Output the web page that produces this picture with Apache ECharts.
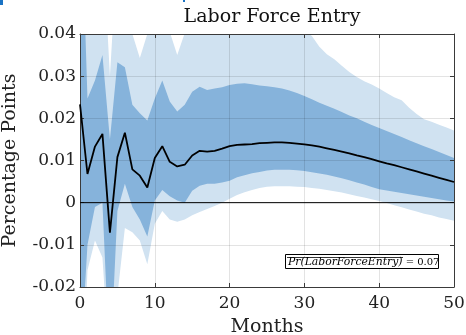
<!DOCTYPE html>
<html><head><meta charset="utf-8">
<script src="https://cdn.jsdelivr.net/npm/echarts@6/dist/echarts.min.js"></script>
<style>html,body{margin:0;padding:0;background:#fff}#c{width:466px;height:335px}</style>
</head><body><div id="c"></div>
<script>
const months = [0,1,2,3,4,5,6,7,8,9,10,11,12,13,14,15,16,17,18,19,20,21,22,23,24,25,26,27,28,29,30,31,32,33,34,35,36,37,38,39,40,41,42,43,44,45,46,47,48,49,50];
const meanResp = [0.0233,0.0068,0.0133,0.0163,-0.0071,0.0108,0.0166,0.0079,0.0064,0.0036,0.0106,0.0134,0.0097,0.0086,0.0090,0.0112,0.0123,0.0121,0.0123,0.0128,0.0134,0.0137,0.0138,0.0139,0.0141,0.0142,0.0143,0.0143,0.0142,0.0140,0.0138,0.0136,0.0133,0.0129,0.0125,0.0121,0.0117,0.0112,0.0108,0.0103,0.0098,0.0093,0.0089,0.0084,0.0079,0.0074,0.0069,0.0064,0.0059,0.0054,0.0049];
const innerLower = [-0.04,-0.010,-0.001,0.0,-0.04,-0.002,0.0045,-0.001,-0.004,-0.008,0.0005,0.003,0.0015,0.0005,0.0,0.0028,0.004,0.0045,0.0045,0.0048,0.0052,0.006,0.0065,0.007,0.0073,0.0076,0.0078,0.0078,0.0078,0.0077,0.0075,0.0072,0.0069,0.0066,0.0062,0.0058,0.0053,0.0048,0.0043,0.0037,0.0032,0.0029,0.0026,0.0023,0.002,0.0017,0.0014,0.0011,0.0008,0.0005,0.0003];
const innerUpper = [0.08,0.0247,0.029,0.035,0.015,0.0333,0.0321,0.0232,0.0212,0.0195,0.0247,0.029,0.024,0.0216,0.0232,0.0263,0.0275,0.0267,0.0271,0.0274,0.0279,0.0282,0.0283,0.0281,0.0278,0.0276,0.0274,0.0271,0.0266,0.026,0.0253,0.0245,0.0237,0.023,0.0223,0.0215,0.0207,0.020,0.0192,0.0184,0.0177,0.017,0.0163,0.0156,0.0148,0.0141,0.0134,0.0127,0.012,0.0113,0.0106];
const outerLower = [-0.06,-0.016,-0.009,-0.013,-0.04,-0.022,-0.006,-0.007,-0.009,-0.0146,-0.005,-0.002,-0.004,-0.0045,-0.004,-0.003,-0.0022,-0.0015,-0.0008,0.0,0.0009,0.0018,0.0025,0.003,0.0035,0.0038,0.0039,0.0039,0.0039,0.0038,0.0037,0.0035,0.0033,0.003,0.0027,0.0024,0.002,0.0016,0.0012,0.0008,0.0004,-0.0001,-0.0006,-0.0011,-0.0016,-0.0021,-0.0026,-0.003,-0.0035,-0.0039,-0.0043];
const outerUpper = [0.1,0.06,0.058,0.063,0.030,0.06,0.055,0.040,0.0343,0.040,0.046,0.048,0.0405,0.035,0.0402,0.045,0.047,0.048,0.048,0.048,0.048,0.048,0.048,0.047,0.047,0.046,0.046,0.045,0.044,0.043,0.041,0.0395,0.037,0.0352,0.034,0.0325,0.031,0.0298,0.0288,0.028,0.0271,0.026,0.025,0.0243,0.0225,0.021,0.0198,0.0192,0.0185,0.0178,0.0171];
const xTicks = [0,10,20,30,40,50];
const yTickLabels = ['-0.02','-0.01','0','0.01','0.02','0.03','0.04'];
const titleText = 'Labor Force Entry';
const xName = 'Months';
const yName = 'Percentage Points';
const noteVar = 'Pr(LaborForceEntry)';
const noteVal = ' = 0.07';

const FONT = 'DejaVu Serif';
const pairs = (arr) => months.map((m, i) => [m, arr[i]]);

function bandSeries(lo, hi, color) {
  return {
    type: 'custom', z: 1, silent: true, clip: true,
    data: months.map((m, i) => [m, lo[i], hi[i]]),
    encode: {x: 0, y: [1, 2]},
    renderItem: function (params, api) {
      if (params.dataIndex !== 0) return null;
      const top = [], bot = [];
      for (let i = 0; i < months.length; i++) {
        top.push(api.coord([months[i], hi[i]]));
        bot.push(api.coord([months[i], lo[i]]));
      }
      const cs = params.coordSys;
      return {
        type: 'polygon',
        shape: {points: top.concat(bot.reverse())},
        style: {fill: color, stroke: null},
        clipPath: {type: 'rect', shape: {x: cs.x, y: cs.y, width: cs.width, height: cs.height}}
      };
    }
  };
}

const chart = echarts.init(document.getElementById('c'), null, {renderer: 'canvas'});
const axisCol = '#3a3a3a';
const gridCol = 'rgba(0,0,0,0.11)';
const baseX = {
  type: 'value', min: 0, max: 50, interval: 10,
  axisLine: {show: true, onZero: false, lineStyle: {color: axisCol, width: 1}},
  axisTick: {show: true, inside: true, length: 4, lineStyle: {color: axisCol}},
  splitLine: {show: false}, z: 3
};
const baseY = {
  type: 'value', min: -0.02, max: 0.04, interval: 0.01,
  axisLine: {show: true, onZero: false, lineStyle: {color: axisCol, width: 1}},
  axisTick: {show: true, inside: true, length: 4, lineStyle: {color: axisCol}},
  splitLine: {show: false}, z: 3
};

chart.setOption({
  animation: false,
  backgroundColor: '#fff',
  title: {text: titleText, left: 267, textAlign: 'center', top: 3,
    textStyle: {fontFamily: FONT, fontWeight: 'normal', fontSize: 19, color: '#111'}},
  grid: {left: 80, right: 12, top: 34, bottom: 48, containLabel: false, outerBoundsMode: 'none'},
  xAxis: [
    Object.assign({}, baseX, {position: 'bottom',
      axisLabel: {show: true, margin: 8, fontFamily: FONT, fontSize: 17, color: '#222',
        formatter: v => xTicks.includes(v) ? String(v) : ''},
      splitLine: {show: true, lineStyle: {color: gridCol, width: 1}},
      name: xName, nameLocation: 'middle', nameGap: 31,
      nameTextStyle: {fontFamily: FONT, fontSize: 19, color: '#222'}}),
    Object.assign({}, baseX, {position: 'top', axisLabel: {show: false}})
  ],
  yAxis: [
    Object.assign({}, baseY, {position: 'left',
      axisLabel: {show: true, margin: 4, fontFamily: FONT, fontSize: 17, color: '#222',
        formatter: v => yTickLabels[Math.round((v + 0.02) / 0.01)]},
      splitLine: {show: true, lineStyle: {color: gridCol, width: 1}},
      name: yName, nameLocation: 'middle', nameGap: 60, nameRotate: 90,
      nameTextStyle: {fontFamily: FONT, fontSize: 19, color: '#222'}}),
    Object.assign({}, baseY, {position: 'right', axisLabel: {show: false}})
  ],
  series: [
    bandSeries(outerLower, outerUpper, '#d0e2f1'),
    bandSeries(innerLower, innerUpper, '#86b3db'),
    {type: 'line', data: [[0, 0], [50, 0]], symbol: 'none',
     lineStyle: {color: '#000', width: 1}, z: 4, silent: true},
    {type: 'line', data: pairs(meanResp), symbol: 'none',
     lineStyle: {color: '#000', width: 1.8}, z: 5, silent: true}
  ],
  graphic: [
    {type: 'rect', shape: {x: 0, y: 0, width: 3, height: 5}, style: {fill: '#1a73c4'}},
    {type: 'rect', shape: {x: 183, y: 0, width: 2, height: 2}, style: {fill: '#1a73c4'}},
    {type: 'rect', shape: {x: 285.5, y: 254.5, width: 153, height: 14},
     style: {fill: '#fff', stroke: '#000', lineWidth: 1}, z: 10},
    {type: 'text', x: 288, y: 262, z: 11,
     style: {text: '{a|' + noteVar + '}{b|' + noteVal + '}', verticalAlign: 'middle',
       rich: {a: {fontFamily: FONT, fontStyle: 'italic', fontSize: 10.8, fill: '#000'},
              b: {fontFamily: FONT, fontSize: 10, fill: '#000'}}}},
    {type: 'line', shape: {x1: 287, y1: 257.5, x2: 403, y2: 257.5},
     style: {stroke: '#000', lineWidth: 0.8}, z: 11}
  ]
});
</script></body></html>
